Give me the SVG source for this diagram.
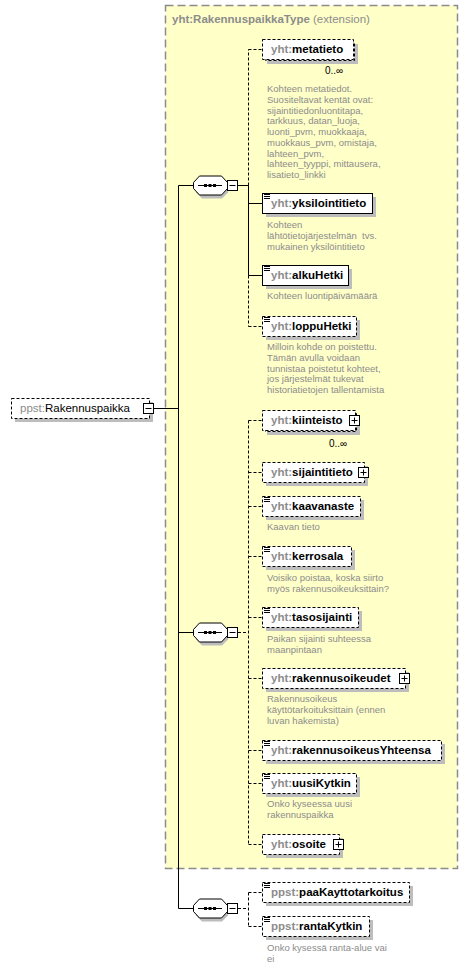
<svg xmlns="http://www.w3.org/2000/svg" width="469" height="969" viewBox="0 0 469 969">
<style>
text{font-family:"Liberation Sans",Arial,sans-serif}
.nmt{font-size:11.5px}
.pfx{fill:#8c8c8c;font-weight:bold}
.nm{fill:#000;font-weight:bold}
.desc{font-size:9.5px;fill:#8c8c8c}
.occ{font-size:10px;fill:#000}
.box{fill:#fff;stroke:#000;stroke-width:1}
.opt{stroke-dasharray:3,2}
.sh{fill:#bdbdbd}
.ico{stroke:#000;stroke-width:1}
.pm{fill:#fff;stroke:#000}
.ln{stroke:#000;stroke-width:1;fill:none}
.dl{stroke:#000;stroke-width:1;stroke-dasharray:3,2;fill:none}
</style>
<defs>
<g id="icon"><path class="ico" d="M1,1.5h6M1,3.5h6M1,5.5h6"/></g>
<g id="plus"><rect class="pm" x="0.5" y="0.5" width="10" height="10"/><path class="ln" d="M2.5,5.5h6M5.5,2.5v6"/></g>
<g id="minus"><rect class="pm" x="0.5" y="0.5" width="10" height="10"/><path class="ln" d="M2.5,5.5h6"/></g>
<g id="seq">
<polygon points="3,7 9,13 29,13 35,7 35,-0 29,-7 9,-7 3,-1" class="sh" transform="translate(0,0)"/>
<polygon points="0.5,-3 6.5,-9.5 28.5,-9.5 34.5,-3 34.5,3 28.5,9.5 6.5,9.5 0.5,3" fill="#fff" stroke="#000"/>
<path class="ln" d="M5,0h24"/>
<rect x="11" y="-1.5" width="3" height="3"/><rect x="15.5" y="-1.5" width="3" height="3"/><rect x="20" y="-1.5" width="3" height="3"/>
</g>
</defs>

<g id="extension">
<rect x="165.5" y="5.5" width="292" height="863" fill="#ffffc8" stroke="#8c8c8c" stroke-width="1.5" stroke-dasharray="8,4"/>
<text x="172" y="23" style="font-size:11.5px"><tspan class="pfx">yht:RakennuspaikkaType</tspan><tspan fill="#8c8c8c"> (extension)</tspan></text>
</g>

<g id="connectors">
<path class="ln" d="M154,408.5H178.5M178.5,185.5V908.5M178.5,185.5H193M178.5,632.5H193M178.5,908.5H193"/>
<path class="ln" d="M238,185.5H248.5M248.5,185.5V275.5M248.5,203.5H262M248.5,275.5H262"/>
<path class="dl" d="M248.5,185.5V49.5M248.5,49.5H262M248.5,275.5V326.5M248.5,326.5H262"/>
<path class="dl" d="M238,632.5H248.5M248.5,420.5V844.5M248.5,420.5H262M248.5,472.5H262M248.5,506.5H262M248.5,556.5H262M248.5,617.5H262M248.5,678.5H262M248.5,750.5H262M248.5,783.5H262M248.5,844.5H262"/>
<path class="dl" d="M238,908.5H248.5M248.5,892.5V926.5M248.5,892.5H262M248.5,926.5H262"/>
</g>

<g id="root">
<rect class="sh" x="15" y="402" width="138" height="20"/>
<rect class="box opt" x="11.5" y="398.5" width="138" height="20"/>
<text class="nmt" x="20" y="412"><tspan fill="#8c8c8c">ppst:</tspan><tspan fill="#000">Rakennuspaikka</tspan></text>
<use href="#minus" x="143" y="403"/>
</g>

<g id="seq1"><use href="#seq" x="193" y="185.5"/><use href="#minus" x="227" y="180"/></g>
<g id="seq2"><use href="#seq" x="193" y="632.5"/><use href="#minus" x="227" y="627"/></g>
<g id="seq3"><use href="#seq" x="193" y="908.5"/><use href="#minus" x="227" y="903"/></g>

<g id="metatieto">
<rect class="sh" x="267" y="44" width="91" height="20"/>
<rect class="box opt" x="265.5" y="42.5" width="89" height="18"/>
<rect class="box opt" x="262.5" y="39.5" width="91" height="20"/>
<text class="nmt" x="271" y="53"><tspan class="pfx">yht:</tspan><tspan class="nm">metatieto</tspan></text>
<text class="occ" x="325" y="74">0..∞</text>
<text class="desc" x="267" y="92">Kohteen metatiedot.</text>
<text class="desc" x="267" y="102.75">Suositeltavat kentät ovat:</text>
<text class="desc" x="267" y="113.5">sijaintitiedonluontitapa,</text>
<text class="desc" x="267" y="124.25">tarkkuus, datan_luoja,</text>
<text class="desc" x="267" y="135">luonti_pvm, muokkaaja,</text>
<text class="desc" x="267" y="145.75">muokkaus_pvm, omistaja,</text>
<text class="desc" x="267" y="156.5">lahteen_pvm,</text>
<text class="desc" x="267" y="167.25">lahteen_tyyppi, mittausera,</text>
<text class="desc" x="267" y="178">lisatieto_linkki</text>
</g>

<g id="yksilointitieto">
<rect class="sh" x="266" y="197" width="110" height="20"/>
<rect class="box" x="262.5" y="193.5" width="110" height="20"/>
<use href="#icon" x="263" y="193"/>
<text class="nmt" x="271" y="207"><tspan class="pfx">yht:</tspan><tspan class="nm">yksilointitieto</tspan></text>
<text class="desc" x="267" y="228">Kohteen</text>
<text class="desc" x="267" y="238.75">lähtötietojärjestelmän&#160; tvs.</text>
<text class="desc" x="267" y="249.5">mukainen yksilöintitieto</text>
</g>

<g id="alkuHetki">
<rect class="sh" x="266" y="269" width="86" height="20"/>
<rect class="box" x="262.5" y="265.5" width="86" height="20"/>
<use href="#icon" x="263" y="265"/>
<text class="nmt" x="271" y="279"><tspan class="pfx">yht:</tspan><tspan class="nm">alkuHetki</tspan></text>
<text class="desc" x="267" y="299">Kohteen luontipäivämäärä</text>
</g>

<g id="loppuHetki">
<rect class="sh" x="266" y="320" width="94" height="20"/>
<rect class="box opt" x="262.5" y="316.5" width="94" height="20"/>
<use href="#icon" x="263" y="316"/>
<text class="nmt" x="271" y="330"><tspan class="pfx">yht:</tspan><tspan class="nm">loppuHetki</tspan></text>
<text class="desc" x="267" y="350">Milloin kohde on poistettu.</text>
<text class="desc" x="267" y="360.75">Tämän avulla voidaan</text>
<text class="desc" x="267" y="371.5">tunnistaa poistetut kohteet,</text>
<text class="desc" x="267" y="382.25">jos järjestelmät tukevat</text>
<text class="desc" x="267" y="393">historiatietojen tallentamista</text>
</g>

<g id="kiinteisto">
<rect class="sh" x="267" y="415" width="93" height="20"/>
<rect class="box opt" x="265.5" y="413.5" width="91" height="18"/>
<rect class="box opt" x="262.5" y="410.5" width="93" height="20"/>
<text class="nmt" x="271" y="424"><tspan class="pfx">yht:</tspan><tspan class="nm">kiinteisto</tspan></text>
<use href="#plus" x="349" y="415"/>
<text class="occ" x="329" y="447">0..∞</text>
</g>

<g id="sijaintitieto">
<rect class="sh" x="266" y="466" width="102" height="20"/>
<rect class="box opt" x="262.5" y="462.5" width="102" height="20"/>
<text class="nmt" x="271" y="476"><tspan class="pfx">yht:</tspan><tspan class="nm">sijaintitieto</tspan></text>
<use href="#plus" x="358" y="467"/>
</g>

<g id="kaavanaste">
<rect class="sh" x="266" y="500" width="98" height="20"/>
<rect class="box opt" x="262.5" y="496.5" width="98" height="20"/>
<use href="#icon" x="263" y="496"/>
<text class="nmt" x="271" y="510"><tspan class="pfx">yht:</tspan><tspan class="nm">kaavanaste</tspan></text>
<text class="desc" x="267" y="530">Kaavan tieto</text>
</g>

<g id="kerrosala">
<rect class="sh" x="266" y="550" width="89" height="20"/>
<rect class="box opt" x="262.5" y="546.5" width="89" height="20"/>
<use href="#icon" x="263" y="546"/>
<text class="nmt" x="271" y="560"><tspan class="pfx">yht:</tspan><tspan class="nm">kerrosala</tspan></text>
<text class="desc" x="267" y="581">Voisiko poistaa, koska siirto</text>
<text class="desc" x="267" y="592">myös rakennusoikeuksittain?</text>
</g>

<g id="tasosijainti">
<rect class="sh" x="266" y="611" width="96" height="20"/>
<rect class="box opt" x="262.5" y="607.5" width="96" height="20"/>
<use href="#icon" x="263" y="607"/>
<text class="nmt" x="271" y="621"><tspan class="pfx">yht:</tspan><tspan class="nm">tasosijainti</tspan></text>
<text class="desc" x="267" y="642">Paikan sijainti suhteessa</text>
<text class="desc" x="267" y="653">maanpintaan</text>
</g>

<g id="rakennusoikeudet">
<rect class="sh" x="266" y="672" width="143" height="20"/>
<rect class="box opt" x="262.5" y="668.5" width="143" height="20"/>
<text class="nmt" x="271" y="682"><tspan class="pfx">yht:</tspan><tspan class="nm">rakennusoikeudet</tspan></text>
<use href="#plus" x="399" y="673"/>
<text class="desc" x="267" y="702">Rakennusoikeus</text>
<text class="desc" x="267" y="713">käyttötarkoituksittain (ennen</text>
<text class="desc" x="267" y="724">luvan hakemista)</text>
</g>

<g id="rakennusoikeusYhteensa">
<rect class="sh" x="266" y="744" width="179" height="20"/>
<rect class="box opt" x="262.5" y="740.5" width="179" height="20"/>
<use href="#icon" x="263" y="740"/>
<text class="nmt" x="271" y="754"><tspan class="pfx">yht:</tspan><tspan class="nm">rakennusoikeusYhteensa</tspan></text>
</g>

<g id="uusiKytkin">
<rect class="sh" x="266" y="777" width="94" height="20"/>
<rect class="box opt" x="262.5" y="773.5" width="94" height="20"/>
<use href="#icon" x="263" y="773"/>
<text class="nmt" x="271" y="787"><tspan class="pfx">yht:</tspan><tspan class="nm">uusiKytkin</tspan></text>
<text class="desc" x="267" y="807">Onko kyseessa uusi</text>
<text class="desc" x="267" y="818">rakennuspaikka</text>
</g>

<g id="osoite">
<rect class="sh" x="266" y="838" width="77" height="20"/>
<rect class="box opt" x="262.5" y="834.5" width="77" height="20"/>
<text class="nmt" x="271" y="848"><tspan class="pfx">yht:</tspan><tspan class="nm">osoite</tspan></text>
<use href="#plus" x="333" y="839"/>
</g>

<g id="paaKayttotarkoitus">
<rect class="sh" x="266" y="886" width="147" height="20"/>
<rect class="box opt" x="262.5" y="882.5" width="147" height="20"/>
<use href="#icon" x="263" y="882"/>
<text class="nmt" x="271" y="896"><tspan class="pfx">ppst:</tspan><tspan class="nm">paaKayttotarkoitus</tspan></text>
</g>

<g id="rantaKytkin">
<rect class="sh" x="266" y="920" width="107" height="20"/>
<rect class="box opt" x="262.5" y="916.5" width="107" height="20"/>
<use href="#icon" x="263" y="916"/>
<text class="nmt" x="271" y="930"><tspan class="pfx">ppst:</tspan><tspan class="nm">rantaKytkin</tspan></text>
<text class="desc" x="267" y="951">Onko kysessä ranta-alue vai</text>
<text class="desc" x="267" y="962">ei</text>
</g>
</svg>
